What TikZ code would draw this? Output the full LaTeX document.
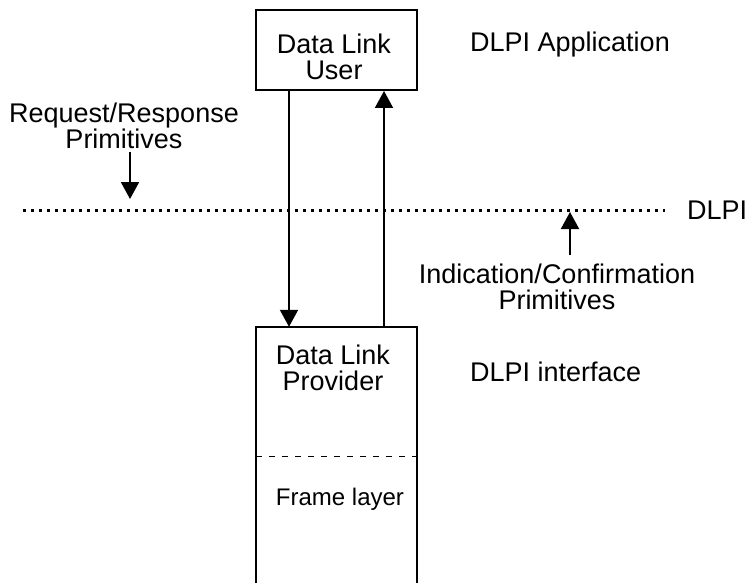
\documentclass[tikz,border=0pt]{standalone}
\usepackage{fontspec}
\setmainfont{Liberation Sans}
\usetikzlibrary{arrows.meta}

\begin{document}
\begin{tikzpicture}[x=1pt, y=-1pt, >={Triangle[width=18pt, length=17pt]},
    every node/.style={font=\fontsize{27}{26}\selectfont, align=center, inner sep=0pt},
    box/.style={draw, line width=2pt, minimum width=161pt, minimum height=80pt},
    link/.style={line width=2pt},
    dotline/.style={line width=3pt, dash pattern=on 3pt off 5pt}]
    \useasboundingbox (0,0) rectangle (746,583);

    % Define boxes
    \node[box] (user) at (336.5,50) {};
    \node (usertxt) at (334,56.5) {Data Link\\User};
    \node[minimum width=161pt, minimum height=256pt] (provider) at (336.5,455) {};
    \node (provtxt) at (333,368) {Data Link\\Provider};
    \node[anchor=base, font=\fontsize{24}{26}\selectfont] (frame) at (340,505) {Frame layer};

    % Define labels
    \node[anchor=base west] (app) at (470,52) {DLPI Application};
    \node[anchor=base west] (iface) at (470,381) {DLPI interface};
    \node (req) at (124,125.5) {Request/Response\\Primitives};
    \node (ind) at (557,286.5) {Indication/Confirmation\\Primitives};
    \node[anchor=west] (dlpi) at (687,210) {DLPI};
    \coordinate (dl) at (23,210);
    \coordinate (dr) at (665,210);
    \coordinate (reqtip) at (130,199);
    \coordinate (indtip) at (570,212);
    \coordinate (fl) at (256,456);

    % Draw provider box (open below)
    \draw[link] (provider.south west) |- (provider.north) -| (provider.south east);
    \draw[dash pattern=on 6pt off 7pt] (fl) -- (fl -| provider.east);

    % Draw edges
    \draw[link, ->] ([xshift=-47.5pt]user.south) -- ([xshift=-47.5pt]provider.north); % down
    \draw[link, ->] ([xshift=47.5pt]provider.north) -- ([xshift=47.5pt]user.south); % up
    \draw[dotline] (dl) -- (dr); % interface line
    \draw[link, ->] (req.south -| reqtip) ++(0,3) -- (reqtip);
    \draw[link, ->] (ind.north -| indtip) ++(0,-8) -- (indtip);
\end{tikzpicture}
\end{document}
